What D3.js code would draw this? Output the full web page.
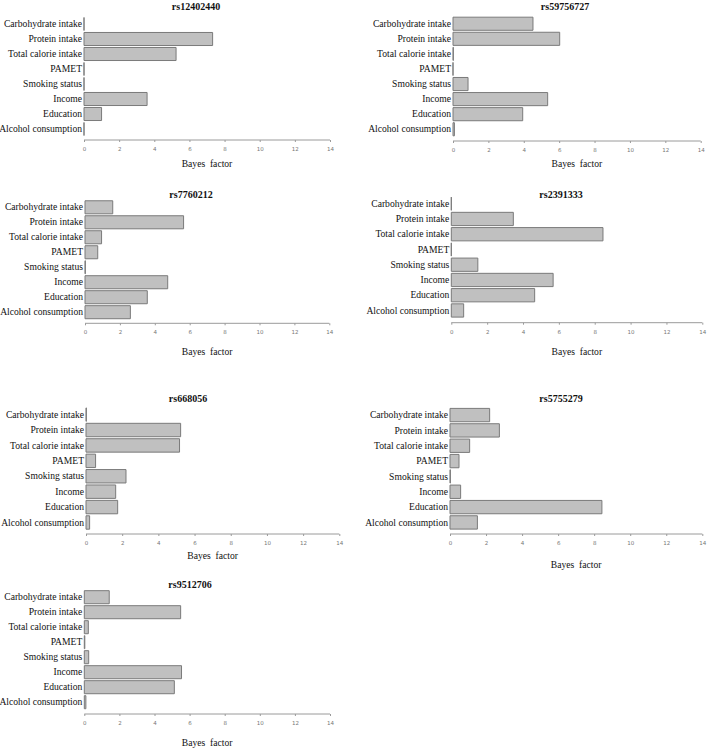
<!DOCTYPE html>
<html><head><meta charset="utf-8">
<script src="https://cdn.jsdelivr.net/npm/d3@7"></script>
<style>
body{margin:0;background:#fff;}
svg{display:block;}
</style></head>
<body>
<svg id="chart" width="708" height="749"></svg>
<script>
const categories = ["Carbohydrate intake","Protein intake","Total calorie intake","PAMET","Smoking status","Income","Education","Alcohol consumption"];
const snps = ["rs12402440","rs59756727","rs7760212","rs2391333","rs668056","rs5755279","rs9512706"];
const rs12402440 = [0, 7.32, 5.24, 0, 0, 3.59, 1.0, 0];
const rs59756727 = [4.52, 6.03, 0.02, 0, 0.85, 5.35, 3.94, 0.08];
const rs7760212 = [1.59, 5.65, 0.95, 0.73, 0.02, 4.74, 3.57, 2.6];
const rs2391333 = [0, 3.46, 8.46, 0, 1.48, 5.68, 4.65, 0.69];
const rs668056 = [0.02, 5.23, 5.17, 0.53, 2.21, 1.64, 1.75, 0.2];
const rs5755279 = [2.2, 2.74, 1.09, 0.5, 0.02, 0.59, 8.43, 1.52];
const rs9512706 = [1.42, 5.49, 0.23, 0.03, 0.25, 5.54, 5.13, 0.09];
const seriesValues = [rs12402440, rs59756727, rs7760212, rs2391333, rs668056, rs5755279, rs9512706];
const xTicks = [0, 2, 4, 6, 8, 10, 12, 14];
const xDomain = [0, 14];
const xTitle = "Bayes  factor";

// panel layout (pixel geometry)
const layout = [
  {x0:84,   x1:330,   y0:16.5,  y1:136.5, axisY:140,   titleX:196, titleY:10,    labY:167},
  {x0:453,  x1:700.7, y0:16.2,  y1:136.8, axisY:141,   titleX:565, titleY:10,    labY:167},
  {x0:85,   x1:329.3, y0:199.8, y1:319.7, axisY:323.3, titleX:191, titleY:197.5, labY:355},
  {x0:451.3,x1:702.3, y0:196.1, y1:318.1, axisY:322.7, titleX:561, titleY:197.5, labY:355},
  {x0:86,   x1:339.3, y0:406.9, y1:530.2, axisY:534,   titleX:188, titleY:401.5, labY:559},
  {x0:450,  x1:702.3, y0:407.4, y1:530.1, axisY:534,   titleX:561, titleY:401.5, labY:568},
  {x0:84.3, x1:330,   y0:589.7, y1:709.7, axisY:714,   titleX:190, titleY:587.5, labY:745.5}
];

const svg = d3.select("#chart");

snps.forEach((name, i) => {
  const L = layout[i];
  const vals = seriesValues[i];
  const data = categories.map((c, j) => ({cat: c, v: vals[j]}));
  const x = d3.scaleLinear().domain(xDomain).range([L.x0, L.x1]);
  const y = d3.scaleBand().domain(categories).range([L.y0, L.y1]).paddingInner(0.13).paddingOuter(0.065);
  const g = svg.append("g");

  // bars (paths so zero-width bars still show as a line)
  g.selectAll("path.bar").data(data).join("path")
    .attr("class", "bar")
    .attr("d", d => {
      const xa = x(0), xb = x(d.v), ya = y(d.cat), h = y.bandwidth();
      return `M${xa},${ya}H${xb}V${ya + h}H${xa}Z`;
    })
    .attr("fill", "#c0c0c0")
    .attr("stroke", "#7a7a7a")
    .attr("stroke-width", 1);

  // category labels
  g.selectAll("text.cat").data(data).join("text")
    .attr("class", "cat")
    .attr("x", L.x0 - 2)
    .attr("y", d => y(d.cat) + y.bandwidth() / 2)
    .attr("dy", "0.33em")
    .attr("text-anchor", "end")
    .attr("font-family", "'Liberation Serif', 'Times New Roman', serif")
    .attr("font-size", 9.6)
    .attr("fill", "#111")
    .text(d => d.cat);

  // x axis
  const ax = g.append("g").attr("transform", `translate(0,${L.axisY})`)
    .call(d3.axisBottom(x).tickValues(xTicks).tickSize(2).tickPadding(5).tickFormat(d3.format("d")));
  ax.select(".domain").attr("stroke", "#9a9a9a").attr("d", `M${L.x0},0H${L.x1}`);
  ax.selectAll(".tick line").attr("stroke", "#9a9a9a");
  ax.selectAll(".tick text").attr("font-family", "'DejaVu Sans', Arial, sans-serif").attr("font-size", 5.5).attr("fill", "#777");

  // title
  g.append("text").attr("x", L.titleX).attr("y", L.titleY)
    .attr("text-anchor", "middle")
    .attr("font-family", "'Liberation Serif', 'Times New Roman', serif")
    .attr("font-weight", "bold").attr("font-size", 10).attr("fill", "#111")
    .text(name);

  // x title
  g.append("text").attr("x", (L.x0 + L.x1) / 2).attr("y", L.labY)
    .attr("text-anchor", "middle")
    .attr("font-family", "'Liberation Serif', 'Times New Roman', serif")
    .attr("font-size", 9.6).attr("fill", "#111")
    .style("white-space", "pre")
    .text(xTitle);
});
</script>
</body></html>
